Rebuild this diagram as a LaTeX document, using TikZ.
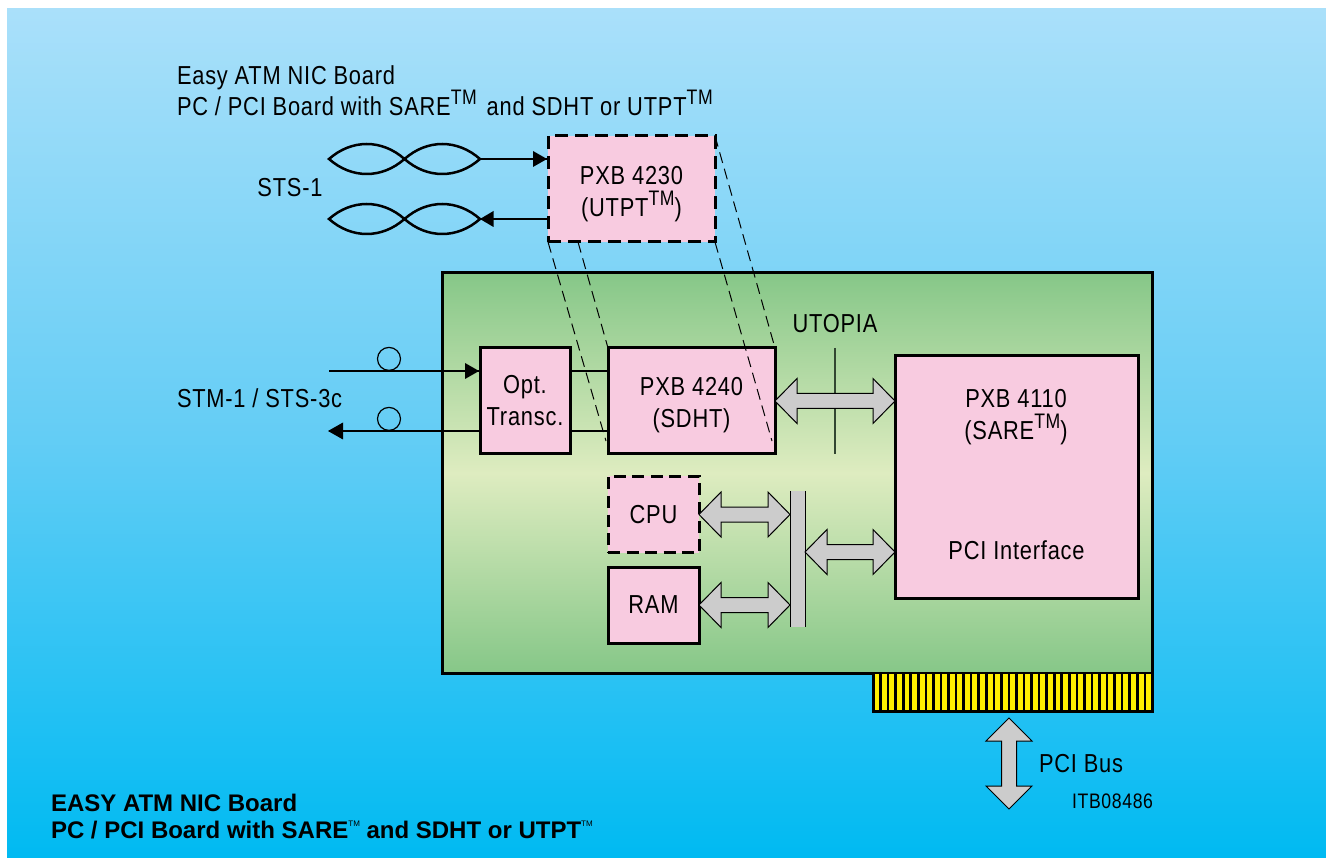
\documentclass[tikz,border=0pt]{standalone}
\usepackage{fontspec}
\setmainfont{Liberation Sans}[FakeStretch=0.84,LetterSpace=3]
\newfontfamily\capfont{Liberation Sans}
\usetikzlibrary{calc}
\definecolor{skytop}{RGB}{170,224,250}
\definecolor{skymid}{RGB}{100,205,245}
\definecolor{skybot}{RGB}{0,186,242}
\definecolor{greenedge}{RGB}{134,199,136}
\definecolor{greenmid}{RGB}{222,236,192}
\definecolor{chip}{RGB}{248,203,224}
\definecolor{busgrey}{RGB}{204,204,204}
\definecolor{pins}{RGB}{255,240,0}
\definecolor{mastline}{RGB}{50,70,50}
\tikzset{
  chipbox/.style={draw=black,fill=chip,line width=3pt,inner sep=0pt,outer sep=0pt,
    font=\lblfont,align=center,text=black},
  dashbox/.style={chipbox,dash pattern=on 13pt off 7pt},
  lbl/.style={font=\lblfont,text=black,inner sep=0pt,outer sep=0pt,align=center},
  footlbl/.style={inner sep=0pt,outer sep=0pt,anchor=base west,text=black,
    font=\capfont\bfseries\fontsize{24}{27}\selectfont},
  wire/.style={draw=black,line width=1.2pt},
  wirehead/.style={fill=black,draw=none},
  ghost/.style={draw=black,line width=1pt,dash pattern=on 11pt off 6pt},
  twist/.style={draw=black,line width=2.5pt},
  fat/.style={draw=black,fill=busgrey,line width=1pt},
  busbar/.style={fill=busgrey,inner sep=0pt,outer sep=0pt},
  ring/.style={draw=black,line width=1.2pt,circle,minimum size=23pt,inner sep=0pt},
}
\newcommand{\lblfont}{\fontsize{26}{32}\selectfont}
\newcommand{\tmsup}{\smash{\raisebox{11pt}{\fontsize{21}{21}\selectfont TM}}}
\newcommand{\tmtiny}{\raisebox{0.5em}{\fontsize{8}{8}\selectfont\mdseries TM}}
% horizontal double block arrow between two points at the same height
\newcommand{\fatH}[2]{\draw[fat] let \p1=#1, \p2=#2, \n1={\x2-\x1-44pt} in
  (\p1) -- ++(22,-22.5) -- ++(0,15) -- ++(\n1,0) -- ++(0,-15) -- (\p2)
  -- ++(-22,22.5) -- ++(0,-15) -- ++({-\n1},0) -- ++(0,15) -- cycle;}
% vertical double block arrow
\newcommand{\fatV}[2]{\draw[fat] let \p1=#1, \p2=#2, \n1={\y1-\y2-46pt} in
  (\p1) -- ++(23,23) -- ++(-15.5,0) -- ++(0pt,{-\n1}) -- ++(15.5,0) -- (\p2)
  -- ++(-23,-23) -- ++(15.5,0) -- ++(0pt,\n1) -- ++(-15.5,0) -- cycle;}
% two-lobed twisted pair between named end points
\newcommand{\twisted}[3]{\draw[twist] #1 .. controls ($#1!0.3!#2+(0,-20)$) and ($#1!0.7!#2+(0,-20)$) .. #2
  .. controls ($#1!1.3!#2+(0,-20)$) and ($#1!1.7!#2+(0,-20)$) .. #3
  .. controls ($#1!1.7!#2+(0,20)$) and ($#1!1.3!#2+(0,20)$) .. #2
  .. controls ($#1!0.7!#2+(0,20)$) and ($#1!0.3!#2+(0,20)$) .. #1 -- cycle;}
\begin{document}
\begin{tikzpicture}[x=1pt,y=-1pt]
\useasboundingbox (0,0) rectangle (1326,858);
\fill[white] (0,0) rectangle (1326,858);
\fill[top color=skytop,bottom color=skybot,middle color=skymid] (7,9) rectangle (1326,858);
% board
\fill[top color=greenedge,bottom color=greenmid] (442,273) rectangle (1152,473);
\fill[top color=greenmid,bottom color=greenedge] (442,473) rectangle (1152,673);
\draw[black,line width=3pt] (442,273) rectangle (1152,673);
% edge connector
\fill[pins] (873,674) rectangle (1152,711);
\foreach \i in {0,...,36} \draw[black,line width=2.6pt] ({873+\i*7.55},674) -- ({873+\i*7.55},711);
\draw[black,line width=3pt] (873,673) -- (873,711) -- (1152,711) -- (1152,673);
% chips
\node[dashbox,minimum width=167pt,minimum height=106pt] (utpt) at (631.5,189) {\rule{0pt}{27.5pt}PXB 4230\\(UTPT\tmsup)};
\node[chipbox,minimum width=90pt,minimum height=106pt] (opt) at (525,401) {Opt.\\Transc.};
\node[chipbox,minimum width=167pt,minimum height=106pt] (sdht) at (691.5,401) {\rule{0pt}{25.5pt}PXB 4240\\(SDHT)};
\node[chipbox,minimum width=243pt,minimum height=242pt] (sare) at (1016.5,477) {};
\node[dashbox,minimum width=91pt,minimum height=76pt,dash pattern=on 12pt off 6.5pt] (cpu) at (653.5,514.5) {CPU};
\node[chipbox,minimum width=91pt,minimum height=76pt] (ram) at (653.5,605) {RAM};
\node[lbl,anchor=base] (saretxt) at (1016,408) {PXB 4110};
\node[lbl,anchor=base] (saretxtb) at (1016,440) {(SARE\tmsup)};
\node[lbl,anchor=base] (pcitxt) at (1016.5,559) {PCI Interface};
% bus bar
\node[busbar,minimum width=15pt,minimum height=136pt] (bus) at (797.5,559) {};
\draw[black,line width=1pt] (bus.north west) -- (bus.south west) (bus.north east) -- (bus.south east);
% free ends
\coordinate (inA) at (329,371);
\coordinate (outA) at (329,431);
\coordinate (tpAa) at (329,159);
\coordinate (tpAb) at (404.5,159);
\coordinate (tpAc) at (480,159);
\coordinate (tpBa) at (329,219);
\coordinate (tpBb) at (404.5,219);
\coordinate (tpBc) at (480,219);
\coordinate (mastT) at (835,348);
\coordinate (mastB) at (835,454);
\coordinate (pciT) at (1009,718);
\coordinate (pciB) at (1009,809);
\coordinate (sareBus) at (895,552);
\coordinate (ghostA) at (606,441);
\coordinate (ghostB) at (772,441);
% wires
\draw[wire] (inA) -- (inA -| opt.west);
\fill[wirehead] (inA -| opt.west) ++(-1,0) -- ++(-14,-8) -- ++(0,16) -- cycle;
\draw[wire] (opt.west |- outA) -- (outA);
\fill[wirehead] (outA) ++(-1,0) -- ++(15,-8.5) -- ++(0,17) -- cycle;
\draw[wire] (inA -| opt.east) -- (inA -| sdht.west);
\draw[wire] (outA -| opt.east) -- (outA -| sdht.west);
\node[ring,anchor=south] (ringA) at (389,371) {};
\node[ring,anchor=south] (ringB) at (389,431) {};
% twisted pairs
\twisted{(tpAa)}{(tpAb)}{(tpAc)}
\twisted{(tpBa)}{(tpBb)}{(tpBc)}
\draw[wire] (tpAc) -- (tpAc -| utpt.west);
\fill[wirehead] (tpAc -| utpt.west) ++(-1,0) -- ++(-14,-8) -- ++(0,16) -- cycle;
\draw[wire] (tpBc -| utpt.west) -- (tpBc);
\fill[wirehead] (tpBc) -- ++(13.5,-8) -- ++(0,16) -- cycle;
% UTOPIA mast and block arrows
\draw[mastline,line width=1.3pt] (mastT) -- (mastB);
\fatH{(sdht.east)}{(sdht.east -| sare.west)}
\fatH{(cpu.east)}{(cpu.east -| bus.west)}
\fatH{(ram.east)}{(ram.east -| bus.west)}
\fatH{(sareBus -| bus.east)}{(sareBus)}
\fatV{(pciT)}{(pciB)}
% projection lines of the optional chip
\draw[ghost] (utpt.south west) -- (ghostA);
\draw[ghost] ([xshift=30pt]utpt.south west) -- (sdht.north west);
\draw[ghost] (utpt.north east) -- (sdht.north east);
\draw[ghost] (utpt.south east) -- (ghostB);
% free labels
\node[lbl,anchor=base west] (title1) at (177,85) {Easy ATM NIC Board};
\node[lbl,anchor=base west] (title2) at (177,116) {PC / PCI Board with SARE\tmsup\hspace{3pt} and SDHT or UTPT\tmsup};
\node[lbl] (sts1) at (290,188) {STS-1};
\node[lbl,anchor=base west] (stm1) at (177,408) {STM-1 / STS-3c};
\node[lbl] (utopia) at (835,324) {UTOPIA};
\node[lbl,anchor=base west] (pcibus) at (1039,772) {PCI Bus};
\node[lbl,anchor=base east,font=\fontsize{21}{21}\selectfont] (itb) at (1153,808) {ITB08486};
\node[footlbl] (foot1) at (51,811) {EASY ATM NIC Board};
\node[footlbl] (foot2) at (51,838) {PC / PCI Board with SARE\tmtiny{} and SDHT or UTPT\tmtiny};
\end{tikzpicture}
\end{document}
